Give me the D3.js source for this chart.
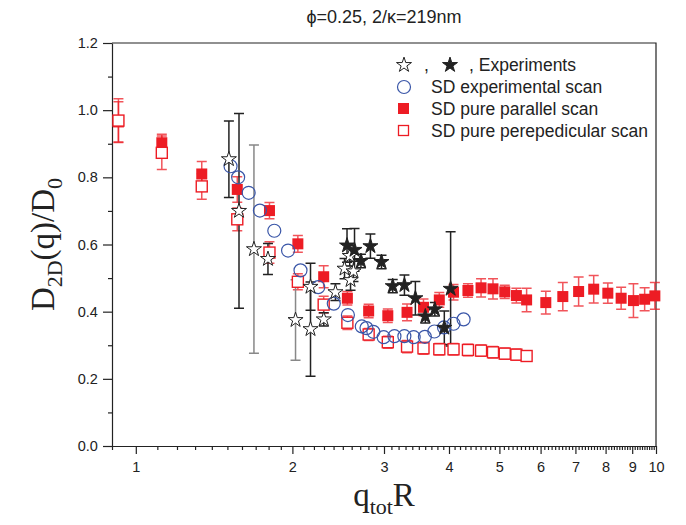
<!DOCTYPE html>
<html>
<head>
<meta charset="utf-8">
<script src="https://cdn.jsdelivr.net/npm/d3@7"></script>
<style>
  body { margin: 0; background: #fff; }
  text { font-family: "Liberation Sans", Arial, sans-serif; }
</style>
</head>
<body>
<script>
// SD grid (q_tot R)
let qSD = [0.926, 1.122, 1.339, 1.567, 1.807, 2.049, 2.297, 2.551, 2.803, 3.051, 3.322, 3.573, 3.832, 4.081,
    4.35, 4.61, 4.86, 5.12, 5.39, 5.64, 6.14, 6.62, 7.1, 7.59, 8.08, 8.57, 9.05, 9.51, 9.95];
// SD pure parallel scan
let parD = [0.965, 0.903, 0.810, 0.764, 0.701, 0.602, 0.504, 0.440, 0.402, 0.388, 0.398, 0.413, 0.435, 0.458,
    0.463, 0.471, 0.468, 0.459, 0.448, 0.435, 0.427, 0.445, 0.460, 0.467, 0.455, 0.440, 0.433, 0.437, 0.447];
let parErr = [0.06, 0.025, 0.037, 0.038, 0.024, 0.025, 0.033, 0.02, 0.02, 0.02, 0.025, 0.025, 0.022, 0.023,
    0.02, 0.027, 0.03, 0.02, 0.022, 0.035, 0.034, 0.042, 0.043, 0.041, 0.03, 0.033, 0.05, 0.034, 0.04];
// SD pure perpendicular scan (first 20 grid points)
let perpD = [0.969, 0.873, 0.773, 0.675, 0.576, 0.489, 0.421, 0.367, 0.332, 0.309, 0.296, 0.291, 0.288, 0.288,
    0.286, 0.284, 0.279, 0.275, 0.272, 0.268];
let perpErr = [0.065, 0.05, 0.038, 0.034, 0.032, 0.024, 0.025, 0.02, 0.018, 0.018, 0.018, 0.018, 0.017, 0.017,
    0.017, 0.017, 0.017, 0.017, 0.017, 0.015];
// SD experimental scan
let qExpScan = [1.521, 1.573, 1.648, 1.732, 1.846, 1.962, 2.073, 2.242, 2.402, 2.557, 2.719, 2.776, 2.862, 2.996,
    3.142, 3.283, 3.421, 3.595, 3.749, 3.913, 4.081, 4.267];
let dExpScan = [0.833, 0.800, 0.754, 0.701, 0.641, 0.582, 0.523, 0.473, 0.424, 0.390, 0.356, 0.351, 0.340, 0.324,
    0.327, 0.327, 0.324, 0.325, 0.341, 0.353, 0.364, 0.377];
// Experiments, open stars
let qOpen = [1.51, 1.579, 1.687, 1.795, 2.028, 2.167, 2.167, 2.298, 2.42, 2.519, 2.578, 2.587, 2.621];
let dOpen = [0.854, 0.700, 0.586, 0.557, 0.375, 0.348, 0.474, 0.377, 0.458, 0.528, 0.566, 0.494, 0.52];
let errOpen = [0.114, 0.29, 0.31, 0.046, 0.12, 0.14, 0.07, 0.02, 0.025, 0.03, 0.03, 0.03, 0.03];
let grayOpen = [false, false, true, false, true, false, false, false, false, false, false, false, false];
// Experiments, filled stars
let qFilled = [2.547, 2.633, 2.709, 2.825, 2.967, 3.118, 3.284, 3.447, 3.602, 3.757, 3.918, 4.029];
let dFilled = [0.597, 0.584, 0.551, 0.595, 0.548, 0.476, 0.479, 0.440, 0.386, 0.407, 0.352, 0.468];
let errFilled = [0.05, 0.064, 0.02, 0.036, 0.02, 0.02, 0.03, 0.05, 0.02, 0.02, 0.05, 0.17];

let xMajor = [1, 2, 3, 4, 5, 6, 7, 8, 9, 10];
let yMajor = [0, 0.2, 0.4, 0.6, 0.8, 1.0, 1.2];

let red = "#ed1c24", blue = "#3a56a8";

let margin = {top: 43, right: 30, bottom: 79, left: 112},
    width = 686 - margin.left - margin.right,
    height = 525 - margin.top - margin.bottom;

let svg = d3.select("body").append("svg")
    .attr("width", 686)
    .attr("height", 525);
let g = svg.append("g")
    .attr("transform", "translate(" + margin.left + "," + margin.top + ")");

let x = d3.scaleLog().domain([0.9, 10]).range([0, width]);
let y = d3.scaleLinear().domain([0, 1.2]).range([height, 0]);

// minor ticks every 0.1
let xMinor = [];
for (let v = 0.9; v < 10; v += 0.1) {
    let r = Math.round(v * 10) / 10;
    if (!xMajor.includes(r)) xMinor.push(r);
}
let yMinor = [0.1, 0.3, 0.5, 0.7, 0.9, 1.1];

g.append("g")
    .attr("transform", "translate(0," + height + ")")
    .call(d3.axisBottom(x).tickValues(xMinor).tickSize(4).tickFormat(""))
    .call(a => a.select(".domain").remove());
g.append("g")
    .attr("transform", "translate(0," + height + ")")
    .call(d3.axisBottom(x).tickValues(xMajor).tickSize(8).tickSizeOuter(0).tickFormat(d3.format("d")))
    .call(a => a.selectAll("text").attr("font-size", 14.5).attr("dy", "1.05em").attr("fill", "#222"));

g.append("g")
    .call(d3.axisLeft(y).tickValues(yMinor).tickSize(4).tickFormat(""))
    .call(a => a.select(".domain").remove());
g.append("g")
    .call(d3.axisLeft(y).tickValues(yMajor).tickSize(9).tickSizeOuter(0).tickFormat(d3.format(".1f")))
    .call(a => a.selectAll("text").attr("font-size", 14.5).attr("dx", "-0.15em").attr("fill", "#222"));

g.selectAll(".domain, .tick line").attr("stroke", "#222").attr("stroke-width", 1.2);

// frame top and right
g.append("path")
    .attr("d", "M0,0H" + width + "V" + height)
    .attr("fill", "none")
    .attr("stroke", "#222")
    .attr("stroke-width", 1.2);

let plot = g.append("g");

function errBars(qs, ds, es, color, opacity) {
    let data = qs.map((q, i) => ({q: q, d: ds[i], e: es[i], c: typeof color === "function" ? color(i) : color}));
    let bars = plot.append("g").attr("opacity", opacity);
    bars.selectAll("path")
        .data(data)
        .join("path")
        .attr("d", d => {
            let px = x(d.q), y0 = y(d.d - d.e), y1 = y(d.d + d.e);
            return "M" + px + "," + y0 + "V" + y1 +
                "M" + (px - 5) + "," + y0 + "H" + (px + 5) +
                "M" + (px - 5) + "," + y1 + "H" + (px + 5);
        })
        .attr("fill", "none")
        .attr("stroke", d => d.c)
        .attr("stroke-width", 1.5);
}

// error bars
errBars(qSD, parD, parErr, red, 0.75);
errBars(qSD.slice(0, perpD.length), perpD, perpErr, red, 0.75);
errBars(qOpen, dOpen, errOpen, i => grayOpen[i] ? "#888" : "#222", 1);
errBars(qFilled, dFilled, errFilled, "#222", 1);

// parallel scan: filled squares
plot.selectAll(".par")
    .data(qSD)
    .join("rect")
    .attr("class", "par")
    .attr("x", (d, i) => x(d) - 5.5)
    .attr("y", (d, i) => y(parD[i]) - 5.5)
    .attr("width", 11)
    .attr("height", 11)
    .attr("fill", red);

// perpendicular scan: open squares
plot.selectAll(".perp")
    .data(perpD)
    .join("rect")
    .attr("class", "perp")
    .attr("x", (d, i) => x(qSD[i]) - 5.5)
    .attr("y", d => y(d) - 5.5)
    .attr("width", 11)
    .attr("height", 11)
    .attr("fill", "#fff")
    .attr("stroke", red)
    .attr("stroke-width", 1.4);

// experimental scan: open circles
plot.selectAll(".scan")
    .data(qExpScan)
    .join("circle")
    .attr("class", "scan")
    .attr("cx", d => x(d))
    .attr("cy", (d, i) => y(dExpScan[i]))
    .attr("r", 6.5)
    .attr("fill", "none")
    .attr("stroke", blue)
    .attr("stroke-width", 1.2);

let star = d3.symbol(d3.symbolStar, 70);

plot.selectAll(".ostar")
    .data(qOpen)
    .join("path")
    .attr("class", "ostar")
    .attr("d", star)
    .attr("transform", (d, i) => "translate(" + x(d) + "," + y(dOpen[i]) + ")")
    .attr("fill", "#fff")
    .attr("stroke", "#222")
    .attr("stroke-width", 1);

plot.selectAll(".fstar")
    .data(qFilled)
    .join("path")
    .attr("class", "fstar")
    .attr("d", star)
    .attr("transform", (d, i) => "translate(" + x(d) + "," + y(dFilled[i]) + ")")
    .attr("fill", "#222")
    .attr("stroke", "#222")
    .attr("stroke-width", 1);

// legend
let leg = svg.append("g").attr("font-size", 17.5).attr("fill", "#222");
leg.append("path").attr("d", star).attr("transform", "translate(404,65)")
    .attr("fill", "#fff").attr("stroke", "#222");
leg.append("text").attr("x", 424).attr("y", 71).text(",");
leg.append("path").attr("d", star).attr("transform", "translate(450,65)")
    .attr("fill", "#222").attr("stroke", "#222");
leg.append("text").attr("x", 469).attr("y", 71).text(", Experiments");
leg.append("circle").attr("cx", 404).attr("cy", 87).attr("r", 6.5)
    .attr("fill", "none").attr("stroke", blue).attr("stroke-width", 1.2);
leg.append("text").attr("x", 431).attr("y", 93).text("SD experimental scan");
leg.append("rect").attr("x", 398).attr("y", 103).attr("width", 11).attr("height", 11).attr("fill", red);
leg.append("text").attr("x", 431).attr("y", 115).text("SD pure parallel scan");
leg.append("rect").attr("x", 398.5).attr("y", 125.5).attr("width", 10).attr("height", 10)
    .attr("fill", "#fff").attr("stroke", red).attr("stroke-width", 1.3);
leg.append("text").attr("x", 431).attr("y", 137).text("SD pure perepedicular scan");

// title
svg.append("text")
    .attr("x", margin.left + width / 2)
    .attr("y", 23)
    .attr("text-anchor", "middle")
    .attr("font-size", 18)
    .attr("fill", "#222")
    .text("\u03D5=0.25, 2/\u03BA=219nm");

// axis labels
let serif = "'Liberation Serif', 'Times New Roman', serif";
let xl = svg.append("text")
    .attr("x", margin.left + width / 2)
    .attr("y", 506)
    .attr("text-anchor", "middle")
    .attr("font-size", 33)
    .style("font-family", serif)
    .attr("fill", "#222");
xl.append("tspan").text("q");
xl.append("tspan").attr("font-size", 22).attr("dy", 8).text("tot");
xl.append("tspan").attr("dy", -8).text("R");

let yl = svg.append("text")
    .attr("transform", "translate(54," + (margin.top + height / 2) + ") rotate(-90)")
    .attr("text-anchor", "middle")
    .attr("font-size", 33)
    .style("font-family", serif)
    .attr("fill", "#222");
yl.append("tspan").text("D");
yl.append("tspan").attr("font-size", 22).attr("dy", 8).text("2D");
yl.append("tspan").attr("dy", -8).text("(q)/D");
yl.append("tspan").attr("font-size", 22).attr("dy", 8).text("0");
</script>
</body>
</html>
